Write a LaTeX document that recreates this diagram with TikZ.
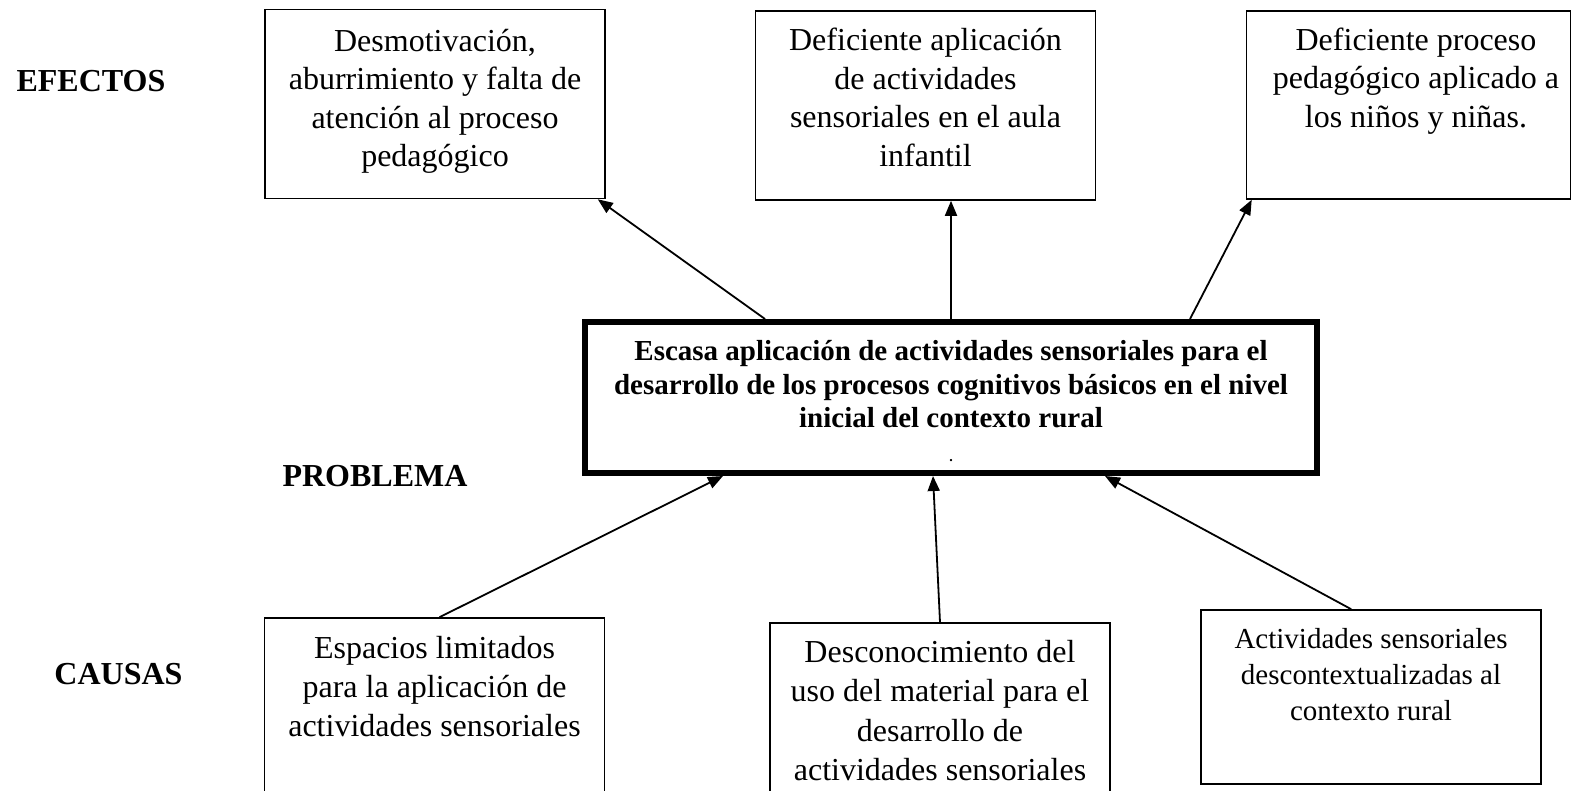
\documentclass[tikz,border=0pt]{standalone}
\usepackage{fontspec}
\setmainfont{Liberation Serif}
\usetikzlibrary{arrows.meta,positioning,calc}

\begin{document}
\begin{tikzpicture}[
    x=0.5pt, y=-0.5pt,
    % global styles
    thin box/.style={draw, line width=0.8pt, inner sep=0pt, minimum width=170pt, minimum height=94.5pt},
    main box/.style={draw, line width=3pt, inner sep=0pt, minimum width=366pt, minimum height=75.5pt},
    % text nodes sit on the baseline of their last line
    box text/.style={align=center, anchor=base, inner sep=0pt, font=\fontsize{16pt}{19.25pt}\selectfont},
    side label/.style={anchor=base, inner sep=0pt, font=\bfseries\fontsize{16pt}{19pt}\selectfont},
    % arrows from causes to problem and from problem to effects
    link arrow/.style={line width=0.9pt, -{Triangle[length=7.5pt, width=6pt]}}
]
    \useasboundingbox (0,0) rectangle (1573,791);
    \clip (0,0) rectangle (1573,791);

    % --- 1. side labels ---
    \node[side label] (lblEfectos) at (91,92) {EFECTOS};
    \node[side label] (lblProblema) at (375,486) {PROBLEMA};
    \node[side label] (lblCausas) at (118.5,684) {CAUSAS};

    % --- 2. effects (top row) ---
    \node[thin box] (ef1) at (435,104) {};
    \node[box text] (ef1t) at ($(ef1.north)+(0,158)$) {Desmotivación,\\aburrimiento y falta de\\atención al proceso\\pedagógico};

    \node[thin box] (ef2) at (925.5,105.5) {};
    \node[box text] (ef2t) at ($(ef2.north)+(0,156)$) {Deficiente aplicación\\de actividades\\sensoriales en el aula\\infantil};

    \node[thin box, minimum width=162pt, minimum height=94pt] (ef3) at (1408.5,105) {};
    \node[box text] (ef3t) at ($(ef3.north)+(7.5,117)$) {Deficiente proceso\\pedagógico aplicado a\\los niños y niñas.};

    % --- 3. problem (centre) ---
    \node[main box] (prob) at (951,397.5) {};
    \node[box text, font=\bfseries\fontsize{14.5pt}{16.75pt}\selectfont] (probt) at ($(prob.north)+(0,142)$)
        {Escasa aplicación de actividades sensoriales para el\\desarrollo de los procesos cognitivos básicos en el nivel\\inicial del contexto rural\\{\fontsize{7pt}{16.75pt}\selectfont .}};

    % --- 4. causes (bottom row, cut by the page edge) ---
    \node[thin box, minimum height=106pt] (ca1) at (434.5,724) {};
    \node[box text, font=\fontsize{16pt}{19.5pt}\selectfont] (ca1t) at ($(ca1.north)+(0,119)$) {Espacios limitados\\para la aplicación de\\actividades sensoriales};

    \node[thin box, minimum height=103.5pt] (ca2) at (940,726.5) {};
    \node[box text, font=\fontsize{16pt}{19.6pt}\selectfont] (ca2t) at ($(ca2.north)+(0,158)$) {Desconocimiento del\\uso del material para el\\desarrollo de\\actividades sensoriales};

    \node[thin box, minimum height=87pt] (ca3) at (1371,697) {};
    \node[box text, font=\fontsize{14.5pt}{18pt}\selectfont] (ca3t) at ($(ca3.north)+(0,111)$) {Actividades sensoriales\\descontextualizadas al\\contexto rural};

    % --- 5. arrows ---
    \draw[link arrow] ($(prob.north west)+(183,0)$) -- ($(ef1.south east)+(-8,0)$);
    \draw[link arrow] (prob.north) -- (prob.north |- ef2.south);
    \draw[link arrow] ($(prob.north west)+(608,0)$) -- ($(ef3.south west)+(6,0)$);

    \draw[link arrow] ($(ca1.north)+(5,0)$) -- ($(prob.south west)+(141,0)$);
    \draw[link arrow] (ca2.north) -- ($(prob.south)+(-18,0)$);
    \draw[link arrow] ($(ca3.north west)+(151,0)$) -- ($(prob.south west)+(523,0)$);

\end{tikzpicture}
\end{document}
